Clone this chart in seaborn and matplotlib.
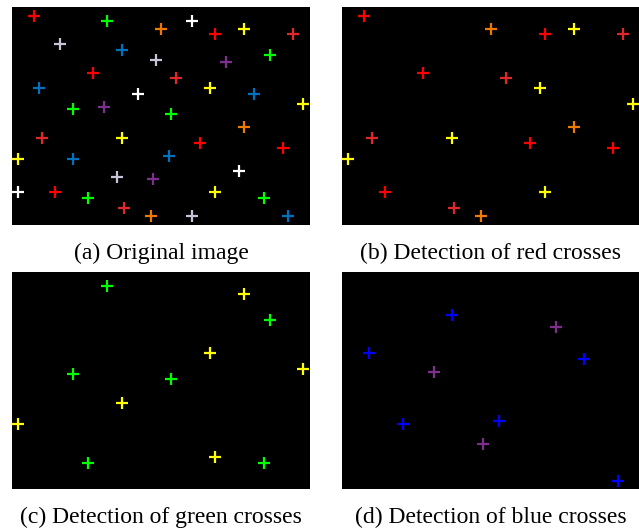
import pandas as pd
import numpy as np
import matplotlib
matplotlib.use("Agg")
import matplotlib.pyplot as plt
import seaborn as sns

# cross positions in panel pixels (origin top-left of each panel) and their colour kind
xs = [22, 94.7, 149, 180, 203.3, 231.7, 281, 47.7, 110, 143.7, 213.7, 257.7, 81.3, 164.3,
      27, 125.7, 198, 242, 291.3, 60.7, 91.7, 159, 231.7, 29.7, 110, 187.7, 270.7, 6.3,
      60.7, 156.7, 104.7, 141, 226.7, 6.3, 42.7, 76.3, 112.3, 138.7, 180, 203.3, 252.3, 275.7]
ys = [8.7, 14, 22, 14, 27, 22, 27, 37.3, 42.7, 53, 55.3, 47.7, 65.7, 71,
      81.3, 86.7, 81.3, 86.7, 97, 102, 99.7, 107.3, 120.3, 130.7, 130.7, 136, 141, 151.7,
      151.7, 148.7, 169.7, 172.3, 164.3, 185.3, 185.3, 190.7, 200.7, 208.7, 208.7, 185.3, 190.7, 208.7]
kinds = ["red", "green", "orange", "white", "red", "yellow", "red2", "gray", "blue", "gray",
         "purple", "green", "red", "red2", "blue", "white", "yellow", "blue", "yellow", "green",
         "purple", "green", "orange", "red2", "yellow", "red", "red", "yellow", "blue", "blue",
         "gray", "purple", "white", "white", "red", "green", "red2", "orange", "gray", "yellow",
         "green", "blue"]

palette = {"red": "#ff0000", "red2": "#e02828", "orange": "#ee7a00", "yellow": "#ffff00",
           "green": "#00ff00", "blue": "#0072bd", "purple": "#7e2f8e",
           "white": "#ffffff", "gray": "#c8c4d8"}

captions = ["(a) Original image", "(b) Detection of red crosses",
            "(c) Detection of green crosses", "(d) Detection of blue crosses"]
shown = [list(palette), ["red", "red2", "orange", "yellow"],
         ["green", "yellow"], ["blue", "purple"]]

df = pd.DataFrame({"x": xs, "y": ys, "kind": kinds})

W, H = 639, 529
fig = plt.figure(figsize=(W / 100, H / 100), dpi=100)

# panel boxes in pixels: left, top, width, height
boxes = [(12, 7, 298, 218), (342, 7, 297, 218), (12, 272, 298, 217), (342, 272, 297, 217)]
cap_y = [253, 253, 517, 517]

for i, (l, t, w, h) in enumerate(boxes):
    ax = fig.add_axes([l / W, 1 - (t + h) / H, w / W, h / H])
    ax.set_facecolor("black")
    pal = dict(palette)
    if i == 3:
        pal["blue"] = "#0000ff"
    sub = df[df["kind"].isin(shown[i])]
    sns.scatterplot(data=sub, x="x", y="y", hue="kind", palette=pal, marker="+",
                    s=70, linewidth=1.6, legend=False, ax=ax)
    ax.set_xlim(0, w)
    ax.set_ylim(h, 0)
    ax.set_xticks([])
    ax.set_yticks([])
    ax.set_xlabel("")
    ax.set_ylabel("")
    for sp in ax.spines.values():
        sp.set_visible(False)
    fig.text((l + w / 2) / W, 1 - cap_y[i] / H, captions[i], ha="center", va="center",
             family="Liberation Serif", fontsize=17)

fig.savefig("out.png", dpi=100, facecolor="white")
